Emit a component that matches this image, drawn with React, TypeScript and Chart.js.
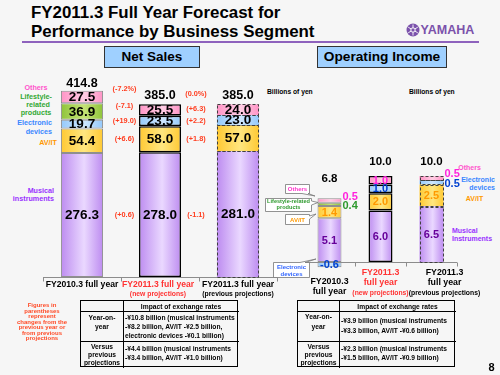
import React, { useEffect, useRef } from "react";
import { Chart, registerables } from "chart.js";
Chart.register(...registerables);

const FONT = 'Arial, "Liberation Sans", Helvetica, sans-serif';

// ---------- data ----------
const categories = ["FY2010.3 full year", "FY2011.3 full year (new projections)", "FY2011.3 full year (previous projections)"];
const netCategoryLines = [["FY2010.3 full year"], ["FY2011.3 full year", "(new projections)"], ["FY2011.3 full year", "(previous projections)"]];
const oiCategoryLines = [["FY2010.3", "full year"], ["FY2011.3", "full year", "(new projections)"], ["FY2011.3", "full year", "(previous projections)"]];
const categoryColors = ["#000000", "#ff3333", "#000000"];

const segmentNames = ["Musical instruments", "AV/IT", "Electronic devices", "Lifestyle-related products", "Others"];

// Net sales (billions of yen)
const netMusical = [276.3, 278.0, 281.0];
const netAVIT = [54.4, 58.0, 57.0];
const netElectronic = [19.7, 23.5, 23.0];
const netLifestyle = [36.9, null, null];
const netOthers = [27.5, 25.5, 24.0];
const netTotals = [414.8, 385.0, 385.0];
// changes by segment (musical, AV/IT, electronic, lifestyle, others)
const netYoYChange = [0.6, 6.6, 19.0, null, -7.1];
const netVsPrevChange = [-1.1, 1.8, 2.2, null, 6.3];
const netYoYPct = -7.2;
const netVsPrevPct = 0.0;

// Operating income (billions of yen)
const oiMusical = [5.1, 6.0, 6.5];
const oiAVIT = [1.4, 2.0, 2.5];
const oiElectronic = [-0.6, 1.0, 0.5];
const oiLifestyle = [0.4, null, null];
const oiOthers = [0.5, 1.0, 0.5];
const oiTotals = [6.8, 10.0, 10.0];

// ---------- styles ----------
const segEdge = ["#bd8cf0", "#ffc933", "#94c9fb", "#8fc43a", "#ff94c6"];
const segMid = ["#ead8ff", "#ffe680", "#cfe7ff", "#c4e276", "#ffcde4"];
const oiLabelColors = ["#660099", "#ff9900", "#0040d0", "#2e9a2e", "#ff22dd"];

function gradFill(edge: string, mid: string, barPct: number) {
  return (c: any) => {
    const chart = c.chart;
    const xs = chart.scales && chart.scales.x;
    if (!chart.chartArea || !xs || c.dataIndex == null) return edge;
    const n = chart.data.labels.length;
    const cx = xs.getPixelForValue(c.dataIndex);
    const half = (xs.width / n) * barPct / 2;
    const g = chart.ctx.createLinearGradient(cx - half, 0, cx + half, 0);
    g.addColorStop(0, edge);
    g.addColorStop(0.55, mid);
    g.addColorStop(1, edge);
    return g;
  };
}

function fmtChange(v: number) {
  const s = Math.abs(v).toFixed(1);
  return v > 0 ? "+" + s : v < 0 ? "-" + s : s;
}

function makeDatasets(values: (number | null)[][], barPct: number, borderColors: string[], borderWidths: number[]) {
  return values.map((data, i) => ({
    label: segmentNames[i],
    data,
    backgroundColor: gradFill(segEdge[i], segMid[i], barPct),
    borderColor: (c: any) => borderColors[c.dataIndex] || "#000",
    borderWidth: (c: any) => borderWidths[c.dataIndex] ?? 1,
    borderSkipped: false as const,
    barPercentage: barPct,
    categoryPercentage: 1,
    stack: "s",
  }));
}

type PluginCfg = {
  kind: "net" | "oi";
  totals: number[];
  totalFont: number;
  totalOffsets: number[];
  segFont: number;
  catLines: string[][];
  catY: number[][];
  catDx: number[];
  catSizes: number[][];
  changes?: { values: (number | null)[]; pct: number; a: number; b: number; dx: number; othersDy: number; pctRef: number; pctDy: number }[];
};

function makePlugin(cfg: PluginCfg) {
  return {
    id: "slide_" + cfg.kind,
    beforeDatasetsDraw(chart: any) {
      const ctx = chart.ctx;
      const xs = chart.scales.x;
      const ys = chart.scales.y;
      const y0 = Math.round(ys.getPixelForValue(0)) + 0.5;
      const n = chart.data.labels.length;
      ctx.save();
      ctx.strokeStyle = "#8c8c8c";
      ctx.lineWidth = 1;
      ctx.beginPath();
      ctx.moveTo(xs.left, y0);
      ctx.lineTo(xs.right, y0);
      for (let k = 0; k <= n; k++) {
        const x = Math.round(xs.left + (k * xs.width) / n) + 0.5;
        ctx.moveTo(x, y0);
        ctx.lineTo(x, y0 + 4);
      }
      ctx.stroke();
      ctx.restore();
    },
    afterDatasetsDraw(chart: any) {
      const ctx = chart.ctx;
      const xs = chart.scales.x;
      const ys = chart.scales.y;
      const sets = chart.data.datasets;
      ctx.save();
      // dashed outline for previous projections
      ctx.setLineDash([3, 2]);
      ctx.strokeStyle = "#404040";
      ctx.lineWidth = 1;
      sets.forEach((ds: any, di: number) => {
        const el = chart.getDatasetMeta(di).data[2];
        if (!el || ds.data[2] == null) return;
        const top = Math.min(el.y, el.base);
        const h = Math.abs(el.base - el.y);
        ctx.strokeRect(Math.round(el.x - el.width / 2) + 0.5, Math.round(top) + 0.5, Math.round(el.width) - 1, Math.round(h));
      });
      ctx.setLineDash([]);
      ctx.textBaseline = "middle";
      // segment labels
      sets.forEach((ds: any, di: number) => {
        const meta = chart.getDatasetMeta(di);
        ds.data.forEach((v: number | null, j: number) => {
          if (v == null) return;
          const el = meta.data[j];
          const cy = (el.y + el.base) / 2;
          ctx.font = `bold ${cfg.segFont}px ${FONT}`;
          if (cfg.kind === "net") {
            ctx.fillStyle = "#000";
            ctx.textAlign = "center";
            ctx.fillText(v.toFixed(1), el.x, cy + 0.5);
          } else {
            ctx.fillStyle = oiLabelColors[di];
            if (v > 0 && v < 0.6) {
              const dy = di === 4 ? -4 : di === 3 ? 2 : 1.5;
              ctx.textAlign = "left";
              ctx.fillText(v.toFixed(1), el.x + el.width / 2 + 1, cy + dy);
            } else {
              ctx.textAlign = "center";
              ctx.fillText(v.toFixed(1), el.x, cy + 0.5);
            }
          }
        });
      });
      // totals
      ctx.font = `bold ${cfg.totalFont}px ${FONT}`;
      ctx.fillStyle = "#000";
      ctx.textAlign = "center";
      cfg.totals.forEach((t, j) => {
        let top = ys.getPixelForValue(0);
        sets.forEach((ds: any, di: number) => {
          const v = ds.data[j];
          if (v != null && v > 0) top = Math.min(top, chart.getDatasetMeta(di).data[j].y);
        });
        ctx.fillText(t.toFixed(1), xs.getPixelForValue(j), top - cfg.totalOffsets[j]);
      });
      // change annotations
      if (cfg.changes) {
        ctx.fillStyle = "#ff3d1f";
        ctx.font = `bold 7.3px ${FONT}`;
        cfg.changes.forEach((ch) => {
          const x = (xs.getPixelForValue(ch.a) + xs.getPixelForValue(ch.b)) / 2 + ch.dx;
          ch.values.forEach((v, di) => {
            if (v == null) return;
            const el = chart.getDatasetMeta(di).data[1];
            const cy = (el.y + el.base) / 2 + (di === 4 ? ch.othersDy : 0);
            ctx.fillText(`(${fmtChange(v)})`, x, cy);
          });
          const py = ys.getPixelForValue(cfg.totals[ch.pctRef]) + ch.pctDy;
          ctx.fillText(`(${fmtChange(ch.pct)}%)`, x, py);
        });
      }
      // category labels
      cfg.catLines.forEach((lines, j) => {
        const x = xs.getPixelForValue(j) + cfg.catDx[j];
        ctx.fillStyle = categoryColors[j];
        lines.forEach((line, k) => {
          ctx.font = `bold ${cfg.catSizes[j][k]}px ${FONT}`;
          ctx.fillText(line, x, cfg.catY[j][k]);
        });
      });
      ctx.restore();
    },
  };
}

function buildNet(): any {
  const barPct = 0.54;
  return {
    type: "bar",
    data: {
      labels: categories,
      datasets: makeDatasets([netMusical, netAVIT, netElectronic, netLifestyle, netOthers], barPct, ["#8f8f8f", "#000000", "rgba(0,0,0,0)"], [1, 1.6, 0]),
    },
    options: {
      responsive: false,
      animation: false,
      events: [],
      layout: { padding: { left: 43, right: 223, top: 61.6, bottom: 98 } },
      plugins: { legend: { display: false }, tooltip: { enabled: false } },
      scales: {
        x: { display: false, stacked: true },
        y: { display: false, stacked: true, min: 0, max: 480 },
      },
    },
    plugins: [
      makePlugin({
        kind: "net",
        totals: netTotals,
        totalFont: 12.5,
        totalOffsets: [7, 9, 9],
        segFont: 13.5,
        catLines: netCategoryLines,
        catY: [[285], [285, 294], [285, 294]],
        catDx: [0, -2, 0],
        catSizes: [[8.6], [8.6, 6.8], [8.6, 6.8]],
        changes: [
          { values: netYoYChange, pct: netYoYPct, a: 0, b: 1, dx: 3.5, othersDy: -4, pctRef: 0, pctDy: -2 },
          { values: netVsPrevChange, pct: netVsPrevPct, a: 1, b: 2, dx: -3, othersDy: -1, pctRef: 1, pctDy: -10 },
        ],
      }),
    ],
  };
}

function buildOi(): any {
  const barPct = 0.47;
  return {
    type: "bar",
    data: {
      labels: categories,
      datasets: makeDatasets([oiMusical, oiAVIT, oiElectronic, oiLifestyle, oiOthers], barPct, ["#8f8f8f", "#000000", "rgba(0,0,0,0)"], [1, 1.6, 0]),
    },
    options: {
      responsive: false,
      animation: false,
      events: [],
      layout: { padding: { left: 304, right: 43, top: 141.6, bottom: 95.8 } },
      plugins: { legend: { display: false }, tooltip: { enabled: false } },
      scales: {
        x: { display: false, stacked: true },
        y: { display: false, stacked: true, min: -2, max: 14 },
      },
    },
    plugins: [
      makePlugin({
        kind: "oi",
        totals: oiTotals,
        totalFont: 11.5,
        totalOffsets: [20, 14, 14],
        segFont: 11,
        catLines: oiCategoryLines,
        catY: [[282, 292], [273, 283, 293], [273, 283, 293]],
        catDx: [0, 0, 13],
        catSizes: [[8.8, 8.8], [8.8, 8.8, 6.8], [8.8, 8.8, 6.8]],
      }),
    ],
  };
}

// ---------- overlay helpers ----------
type TP = { x: number; y: number; s: number; c?: string; a?: "left" | "center" | "right"; children: React.ReactNode };
const T = ({ x, y, s, c = "#000", a = "left", children }: TP) => (
  <div
    style={{
      position: "absolute",
      left: x,
      top: y,
      fontSize: s,
      color: c,
      lineHeight: 1,
      whiteSpace: "nowrap",
      transform: `translate(${a === "center" ? "-50%" : a === "right" ? "-100%" : "0"}, -50%)`,
    }}
  >
    {children}
  </div>
);

const lineStyle = (l: number, t: number, w: number, h: number): React.CSSProperties => ({
  position: "absolute",
  left: l,
  top: t,
  width: w,
  height: h,
  background: "#000",
});

function FxTable({ left, colW, rows }: { left: number; colW: number; rows: { head: string[]; headY: number[]; body: string[]; bodyY: number[] }[] }) {
  const W = 158;
  const H = 67;
  return (
    <div style={{ position: "absolute", left, top: 300, width: W, height: H, border: "1.5px solid #000", boxSizing: "border-box" }}>
      <div style={lineStyle(colW, 0, 1, H)} />
      <div style={lineStyle(0, 10, W, 1)} />
      <div style={lineStyle(0, 40, W, 1)} />
      <T x={colW + (W - colW) / 2} y={5.5} s={6.7} a="center">Impact of exchange rates</T>
      {rows.map((r, i) => (
        <React.Fragment key={i}>
          {r.head.map((h, k) => (
            <T key={"h" + k} x={colW / 2} y={r.headY[k]} s={6.7} a="center">{h}</T>
          ))}
          {r.body.map((b, k) => (
            <T key={"b" + k} x={colW + 2} y={r.bodyY[k]} s={6.7}>{b}</T>
          ))}
        </React.Fragment>
      ))}
    </div>
  );
}

export default function App() {
  const leftRef = useRef<HTMLCanvasElement>(null);
  const rightRef = useRef<HTMLCanvasElement>(null);
  useEffect(() => {
    const c1 = new Chart(leftRef.current as HTMLCanvasElement, buildNet());
    const c2 = new Chart(rightRef.current as HTMLCanvasElement, buildOi());
    return () => {
      c1.destroy();
      c2.destroy();
    };
  }, []);

  const canvasStyle: React.CSSProperties = { position: "absolute", left: 0, top: 0, width: 500, height: 375, pointerEvents: "none" };

  return (
    <div style={{ position: "fixed", left: 0, top: 0, width: 500, height: 375, background: "#f6f6f6", fontFamily: FONT, fontWeight: "bold", overflow: "hidden" }}>
      {/* title */}
      <T x={31} y={12.8} s={16.9}>FY2011.3 Full Year Forecast for</T>
      <T x={31} y={32.3} s={16.9}>Performance by Business Segment</T>
      <div style={{ position: "absolute", left: 22, top: 41, width: 457, height: 2, background: "#8e62bd" }} />
      <svg style={{ position: "absolute", left: 0, top: 0 }} width={500} height={375}>
        <circle cx={413} cy={30} r={6.5} fill="#7b52ab" />
        <circle cx={413} cy={30} r={2.2} fill="none" stroke="#fff" strokeWidth={1} />
        <g stroke="#fff" strokeWidth={0.9}>
          <line x1={413} y1={24.5} x2={413} y2={27.8} />
          <line x1={413} y1={32.2} x2={413} y2={35.5} />
          <line x1={408.2} y1={27.2} x2={411.1} y2={28.9} />
          <line x1={414.9} y1={31.1} x2={417.8} y2={32.8} />
          <line x1={408.2} y1={32.8} x2={411.1} y2={31.1} />
          <line x1={414.9} y1={28.9} x2={417.8} y2={27.2} />
        </g>
      </svg>
      <T x={420.5} y={30} s={12.5} c="#7b52ab">YAMAHA</T>

      {/* panel headers */}
      <div style={{ position: "absolute", left: 104, top: 46, width: 96, height: 22, background: "#9fd0ff", border: "1px solid #333", boxSizing: "border-box", fontSize: 13.5, lineHeight: "20px", textAlign: "center" }}>Net Sales</div>
      <div style={{ position: "absolute", left: 317, top: 46, width: 130, height: 22, background: "#9fd0ff", border: "1px solid #333", boxSizing: "border-box", fontSize: 13.7, lineHeight: "20px", textAlign: "center" }}>Operating Income</div>
      <T x={267} y={92} s={6.7}>Billions of yen</T>
      <T x={409} y={92} s={6.7}>Billions of yen</T>

      {/* left segment names */}
      <T x={36} y={88} s={7.2} c="#ff55cc" a="center">Others</T>
      <T x={36} y={97} s={7.2} c="#33a833" a="center">Lifestyle-</T>
      <T x={38} y={105} s={7.2} c="#33a833" a="center">related</T>
      <T x={36} y={113} s={7.2} c="#33a833" a="center">products</T>
      <T x={52} y={123} s={7.2} c="#3a86ff" a="right">Electronic</T>
      <T x={52} y={132} s={7.2} c="#3a86ff" a="right">devices</T>
      <T x={57} y={143} s={7.2} c="#ff9900" a="right">AV/IT</T>
      <T x={54} y={191} s={7.2} c="#9933ff" a="right">Musical</T>
      <T x={54} y={199} s={7.2} c="#9933ff" a="right">instruments</T>

      {/* right segment names */}
      <T x={469.5} y={167} s={7} c="#ff55cc" a="center">Others</T>
      <T x={495} y={179} s={7} c="#3a86ff" a="right">Electronic</T>
      <T x={495} y={187} s={7} c="#3a86ff" a="right">devices</T>
      <T x={474.5} y={198} s={7} c="#ff9900" a="center">AV/IT</T>
      <T x={452} y={230} s={7} c="#9933ff">Musical</T>
      <T x={452} y={238} s={7} c="#9933ff">Instruments</T>

      <canvas ref={leftRef} width={500} height={375} style={canvasStyle} />
      <canvas ref={rightRef} width={500} height={375} style={canvasStyle} />

      {/* callouts */}
      <svg style={{ position: "absolute", left: 0, top: 0 }} width={500} height={375}>
        <g fill="#ffffff" stroke="#777" strokeWidth={0.8}>
          <path d="M285.5,184.5 H309.5 V193.5 H308 L315,196 L302,193.5 H285.5 Z" />
          <path d="M265.5,198.5 H311.5 V201 L318,202.5 L311.5,205 V211.5 H265.5 Z" />
          <path d="M285.5,214.5 H309.5 V216 L316,214 L309.5,219 V224.5 H285.5 Z" />
          <path d="M273.5,262.5 H300 L316,259 L305,262.5 H309.5 V277.5 H273.5 Z" />
        </g>
      </svg>
      <T x={297.5} y={189.3} s={6} c="#ff33cc" a="center">Others</T>
      <T x={288.5} y={202.3} s={5.6} c="#2e9a2e" a="center">Lifestyle-related</T>
      <T x={288.5} y={208} s={5.6} c="#2e9a2e" a="center">products</T>
      <T x={297.5} y={219.5} s={6} c="#ff9900" a="center">AV/IT</T>
      <T x={291.5} y={266.5} s={6} c="#3366ff" a="center">Electronic</T>
      <T x={291.5} y={273.5} s={6} c="#3366ff" a="center">devices</T>

      {/* note */}
      {["Figures in", "parentheses", "represent", "changes from the", "previous year or", "from previous", "projections"].map((l, i) => (
        <T key={l} x={42} y={305 + i * 5.5} s={6} c="#ff4a26" a="center">{l}</T>
      ))}

      {/* tables */}
      <FxTable
        left={80}
        colW={42}
        rows={[
          { head: ["Year-on-", "year"], headY: [17, 25.5], body: ["-¥10.8 billion (musical instruments", "-¥8.2 billion, AV/IT -¥2.5 billion,", "electronic devices -¥0.1 billion)"], bodyY: [16.5, 26, 34.5] },
          { head: ["Versus", "previous", "projections"], headY: [46, 54, 62], body: ["-¥4.4 billion (musical instruments", "-¥3.4 billion, AV/IT -¥1.0 billion)"], bodyY: [47.5, 57] },
        ]}
      />
      <FxTable
        left={297}
        colW={41}
        rows={[
          { head: ["Year-on-", "year"], headY: [16, 25.5], body: ["-¥3.9 billion (musical instruments", "-¥3.3 billion, AV/IT -¥0.6 billion)"], bodyY: [20, 29.5] },
          { head: ["Versus", "previous", "projections"], headY: [46, 54, 62], body: ["-¥2.3 billion (musical instruments", "-¥1.5 billion, AV/IT -¥0.9 billion)"], bodyY: [47.5, 57] },
        ]}
      />

      <T x={491.5} y={367} s={11} a="center">8</T>
    </div>
  );
}
